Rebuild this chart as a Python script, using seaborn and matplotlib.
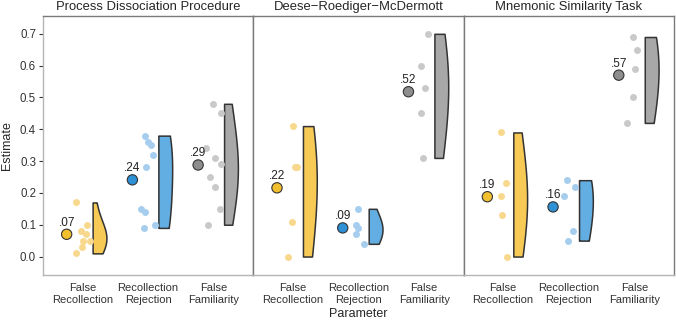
import numpy as np
import pandas as pd
import matplotlib.pyplot as plt
import seaborn as sns

# -------------------------------
# Data
# -------------------------------
tasks = ["Process Dissociation Procedure", "Deese\u2212Roediger\u2212McDermott", "Mnemonic Similarity Task"]
params = ["False Recollection", "Recollection Rejection", "False Familiarity"]
param_labels = ["False\nRecollection", "Recollection\nRejection", "False\nFamiliarity"]

pdp_fr = [0.17, 0.10, 0.08, 0.07, 0.05, 0.05, 0.03, 0.01]
pdp_rr = [0.38, 0.36, 0.35, 0.32, 0.28, 0.15, 0.14, 0.10, 0.09]
pdp_ff = [0.48, 0.45, 0.34, 0.31, 0.29, 0.25, 0.22, 0.15, 0.10]

drm_fr = [0.41, 0.28, 0.28, 0.11, 0.00]
drm_rr = [0.15, 0.10, 0.09, 0.07, 0.04]
drm_ff = [0.70, 0.60, 0.53, 0.45, 0.31]

mst_fr = [0.39, 0.23, 0.19, 0.13, 0.00]
mst_rr = [0.24, 0.22, 0.19, 0.08, 0.05]
mst_ff = [0.69, 0.65, 0.59, 0.50, 0.42]

mean_colors = ["#F2BF2F", "#2E90D5", "#8E8E8E"]
dot_colors = ["#F8D88C", "#A6CDEE", "#C9C9C9"]
violin_colors = ["#F6CA55", "#62AEE2", "#A8A8A8"]

rows = []
task_values = [[pdp_fr, pdp_rr, pdp_ff], [drm_fr, drm_rr, drm_ff], [mst_fr, mst_rr, mst_ff]]
for task, vals in zip(tasks, task_values):
    for i, (p, v) in enumerate(zip(params, vals)):
        for x in v:
            rows.append({"task": task, "param": p, "pos": i, "estimate": x})
df = pd.DataFrame(rows)

# -------------------------------
# Figure
# -------------------------------
sns.set_style("white")
plt.rcParams["font.family"] = ["Liberation Sans", "DejaVu Sans"]
fig, axes = plt.subplots(1, 3, figsize=(6.76, 3.22), dpi=100, sharey=True)
fig.subplots_adjust(left=43 / 676, right=674 / 676, bottom=47 / 322, top=306 / 322, wspace=0)
np.random.seed(7)

for k, (ax, task) in enumerate(zip(axes, tasks)):
    d = df[df.task == task]
    for i, p in enumerate(params):
        g = d[d.param == p].copy()
        g["vpos"] = g["pos"] + 0.26
        g["side"] = "right"
        # half violin
        sns.violinplot(
            data=g, x="vpos", y="estimate", hue="side", hue_order=["left", "right"],
            palette={"left": violin_colors[i], "right": violin_colors[i]},
            split=True, native_scale=True, cut=0, inner=None, saturation=1,
            density_norm="width", width=0.21, bw_adjust=1.5, linecolor="#333333",
            linewidth=1.1, legend=False, ax=ax
        )
        # raw points
        sns.stripplot(
            data=g, x="pos", y="estimate", native_scale=True, jitter=0.12,
            color=dot_colors[i], size=5, linewidth=0, ax=ax, zorder=2
        )

    # means
    means = d.groupby("pos")["estimate"].mean().reset_index()
    means["mpos"] = means["pos"] - 0.24
    sns.scatterplot(
        data=means, x="mpos", y="estimate", hue="pos", palette=mean_colors,
        s=55, edgecolor="#333333", linewidth=0.8, legend=False, ax=ax, zorder=4
    )
    for _, r in means.iterrows():
        ax.annotate(f"{r.estimate:.2f}".lstrip("0"), (r.mpos, r.estimate),
                    xytext=(0, 4), textcoords="offset points",
                    ha="center", va="bottom", fontsize=8.5, color="#222222")

    ax.set_xlim(-0.6, 2.6)
    ax.set_ylim(-0.058, 0.756)
    ax.set_xticks([0, 1, 2])
    ax.set_xticklabels(param_labels, fontsize=8, color="#333333")
    ax.tick_params(axis="x", length=0, pad=6)
    ax.set_title(task, fontsize=9.4, pad=4)
    ax.set_xlabel("Parameter" if k == 1 else "", fontsize=9, labelpad=2)
    ax.set_ylabel("")
    for side in ["top", "right", "left", "bottom"]:
        ax.spines[side].set_visible(True)
        ax.spines[side].set_color("#7a7a7a")
        ax.spines[side].set_linewidth(1.0)
    ax.spines["bottom"].set_color("#b5b5b5")
    if k == 0:
        ax.spines["left"].set_color("#b5b5b5")
        ax.tick_params(axis="y", length=3, color="#333333", labelsize=8.3, labelcolor="#333333", left=True, pad=2)
    else:
        ax.tick_params(axis="y", left=False)

axes[0].set_yticks(np.arange(0, 0.71, 0.1))
axes[0].set_yticklabels([f"{v:.1f}" for v in np.arange(0, 0.71, 0.1)])
axes[0].set_ylabel("Estimate", fontsize=9)
axes[0].yaxis.set_label_coords(-0.145, 0.5)

plt.savefig("out.png", dpi=100)
plt.close()
